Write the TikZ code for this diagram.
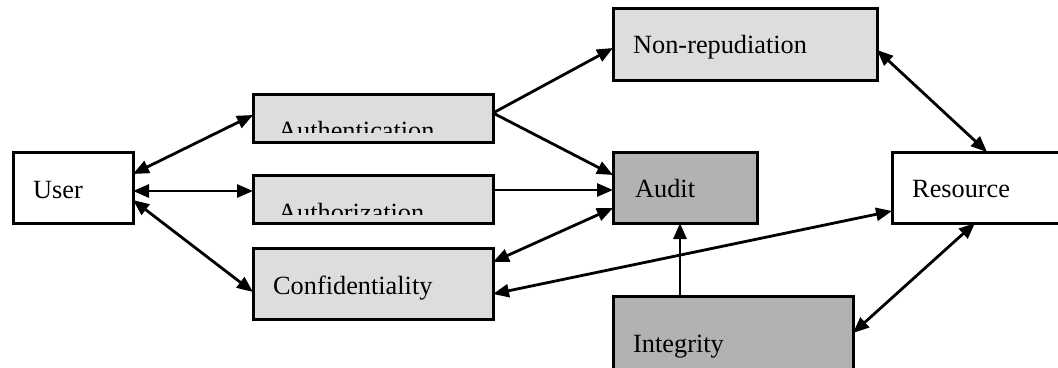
\documentclass[tikz,border=0pt]{standalone}
\usepackage{fontspec}
\setmainfont{Liberation Serif}
\usetikzlibrary{arrows.meta}
\definecolor{boxlight}{HTML}{DDDDDD}
\definecolor{boxdark}{HTML}{B2B2B2}
\begin{document}
\begin{tikzpicture}[x=1pt,y=-1pt,
  box/.style={draw=black, line width=3pt, anchor=north west, inner sep=0pt, outer sep=0pt},
  light/.style={box, fill=boxlight},
  dark/.style={box, fill=boxdark},
  plain/.style={box, fill=white},
  txt/.style={anchor=base west, inner sep=0pt, font=\fontsize{26.3}{30}\selectfont},
  tip/.tip={Triangle[length=16pt,width=13pt]},
  link/.style={line width=2.8pt, -tip},
  both/.style={line width=2.8pt, tip-tip},
]
\useasboundingbox (0,0) rectangle (1058,367);
\clip (0,0) rectangle (1058,367);

% boxes
\node[plain, minimum width=120pt, minimum height=71pt] (user)   at (13,152)  {};
\node[light, minimum width=240pt, minimum height=48pt] (authn)  at (253,94)  {};
\node[light, minimum width=240pt, minimum height=48pt] (authz)  at (253,175) {};
\node[light, minimum width=240pt, minimum height=71pt] (conf)   at (253,248) {};
\node[light, minimum width=264pt, minimum height=72pt] (nonrep) at (613,8)   {};
\node[dark,  minimum width=144pt, minimum height=71pt] (audit)  at (613,152) {};
\node[plain, minimum width=200pt, minimum height=71pt] (res)    at (892,152) {};
\node[dark,  minimum width=240pt, minimum height=110pt] (integ) at (613,296) {};

% labels
\node[txt] (user-t)   at (33,198)  {User};
\node[txt] (conf-t)   at (273,294) {Confidentiality};
\node[txt] (nonrep-t) at (633,53)  {Non-repudiation};
\node[txt] (audit-t)  at (635,197) {Audit};
\node[txt] (res-t)    at (912,197) {Resource};
\node[txt] (integ-t)  at (633,352) {Integrity};
\begin{scope}
  \clip (authn.north west) rectangle ([yshift=10pt]authn.south east);
  \node[txt] (authn-t) at (278,139) {Authentication};
\end{scope}
\begin{scope}
  \clip (authz.north west) rectangle ([yshift=9pt]authz.south east);
  \node[txt] (authz-t) at (278,221) {Authorization};
\end{scope}

% connectors
\draw[both] ([yshift=13.5pt]user.east) -- ([yshift=3pt]authn.west);
\draw[both] ([yshift=-3.5pt]user.east) -- ([yshift=8pt]authz.west);
\draw[both] ([yshift=-12.5pt]user.east) -- ([yshift=-8.5pt]conf.west);
\draw[link] ([yshift=5pt]authn.east) -- ([yshift=-4pt]nonrep.west);
\draw[link] ([yshift=5pt]authn.east) -- ([yshift=12.5pt]audit.west);
\draw[link] ([yshift=9pt]authz.east) -- ([yshift=-2.5pt]audit.west);
\draw[both] ([yshift=21.5pt]conf.east) -- ([yshift=-20.5pt]audit.west);
\draw[both] ([yshift=-10.5pt]conf.east) -- ([yshift=-23.5pt]res.west);
\draw[link] ([xshift=67pt]integ.north west) -- ([xshift=67pt]audit.south west);
\draw[both] ([yshift=-37pt]integ.north east) -- ([xshift=83pt]res.south west);
\draw[both] ([yshift=-6pt]nonrep.east) -- ([xshift=95pt]res.north west);
\end{tikzpicture}
\end{document}
